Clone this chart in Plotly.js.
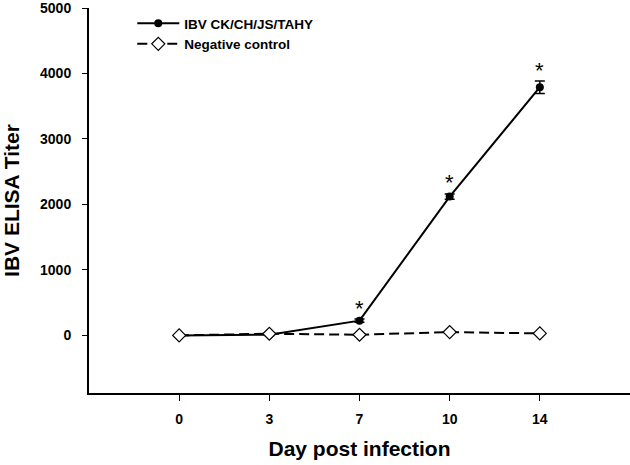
<!DOCTYPE html>
<html><head><meta charset="utf-8">
<script src="https://cdn.plot.ly/plotly-3.0.1.min.js"></script>
<style>html,body{margin:0;padding:0;background:#fff}#c{width:630px;height:465px}</style>
</head><body><div id="c"></div>
<script>
const days = ['0','3','7','10','14'];
const ibvTiter = [0, 10, 225, 2120, 3790];
const ibvErr = [0, 10, 25, 40, 95];
const negTiter = [0, 25, 10, 50, 30];
const sigDays = ['7','10','14'];
const sigMark = '*';

const F = 'Arial, "Liberation Sans", sans-serif';
const xIdx = days.map((d, i) => i);
const traces = [
  {x: xIdx, y: ibvTiter, name: 'IBV CK/CH/JS/TAHY', type: 'scatter', mode: 'lines+markers',
   line: {color: '#000', width: 2}, marker: {symbol: 'circle', size: 8, color: '#000'},
   error_y: {type: 'data', array: ibvErr, visible: true, color: '#000', thickness: 1.5, width: 5}},
  {x: xIdx, y: negTiter, name: 'Negative control', type: 'scatter', mode: 'lines+markers',
   line: {color: '#000', width: 2, dash: '10px,5px'},
   marker: {symbol: 'diamond', size: 10, color: '#fff', line: {color: '#000', width: 1.2}}}
];
const annotations = sigDays.map(d => {
  const i = days.indexOf(d);
  return {x: i, y: ibvTiter[i] + ibvErr[i], xref: 'x', yref: 'y', text: sigMark, showarrow: false,
    yshift: 11, font: {family: F, size: 22, color: '#000'}};
});
const layout = {
  width: 630, height: 465,
  margin: {l: 89, r: 0, t: 8, b: 72},
  paper_bgcolor: '#fff', plot_bgcolor: '#fff',
  font: {family: F, color: '#000'},
  showlegend: true,
  legend: {x: 0.08, y: 1.0, xanchor: 'left', yanchor: 'top', bgcolor: 'rgba(0,0,0,0)',
    itemwidth: 42, tracegroupgap: 0,
    font: {family: F, size: 13.5, color: '#000', weight: 'bold'}},
  xaxis: {range: [-1, 5], tickvals: xIdx, ticktext: days, showgrid: false, zeroline: false,
    showline: true, linecolor: '#000', linewidth: 2, ticks: 'outside', ticklen: 6, tickwidth: 1,
    tickcolor: '#000', ticklabelstandoff: 6,
    tickfont: {family: F, size: 14, weight: 'bold'},
    title: {text: 'Day post infection', font: {family: F, size: 21, weight: 'bold'}, standoff: 16}},
  yaxis: {range: [-880, 5000], tickvals: [0, 1000, 2000, 3000, 4000, 5000], showgrid: false,
    zeroline: false, showline: true, linecolor: '#000', linewidth: 2, ticks: 'outside',
    ticklen: 5, tickwidth: 1, tickcolor: '#000', ticklabelstandoff: 8, ticklabeloverflow: 'allow',
    tickfont: {family: F, size: 14, weight: 'bold'},
    title: {text: 'IBV ELISA Titer', font: {family: F, size: 21, weight: 'bold'}, standoff: 15}},
  annotations: annotations
};
Plotly.newPlot('c', traces, layout, {displayModeBar: false, staticPlot: true});
</script></body></html>
